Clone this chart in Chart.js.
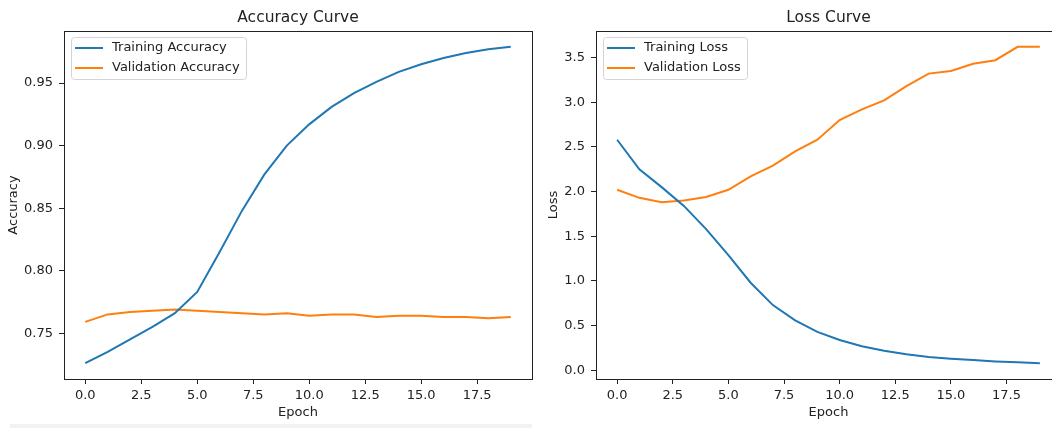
<!DOCTYPE html>
<html>
<head>
<meta charset="utf-8">
<script src="https://cdn.jsdelivr.net/npm/chart.js@4.4.1/dist/chart.umd.min.js"></script>
<style>
  html, body { margin: 0; padding: 0; background: #fff; }
  body { width: 1052px; height: 428px; overflow: hidden; position: relative; }
  canvas { position: absolute; top: 0; }
  #acc { left: 0; }
  #loss { left: 540px; }
  .strip { position: absolute; left: 10px; top: 424px; width: 522px; height: 4px; background: #f2f2f2; }
</style>
</head>
<body>
<canvas id="acc" width="540" height="428"></canvas>
<canvas id="loss" width="530" height="428"></canvas>
<div class="strip"></div>
<script>
// values
const epochs = [0, 1, 2, 3, 4, 5, 6, 7, 8, 9, 10, 11, 12, 13, 14, 15, 16, 17, 18, 19];
const trainAcc = [0.726, 0.735, 0.745, 0.755, 0.766, 0.783, 0.815, 0.848, 0.877, 0.900, 0.917, 0.931, 0.942, 0.951, 0.959, 0.965, 0.970, 0.974, 0.977, 0.979];
const valAcc = [0.759, 0.765, 0.767, 0.768, 0.769, 0.768, 0.767, 0.766, 0.765, 0.766, 0.764, 0.765, 0.765, 0.763, 0.764, 0.764, 0.763, 0.763, 0.762, 0.763];
const trainLoss = [2.58, 2.25, 2.05, 1.84, 1.58, 1.29, 0.98, 0.73, 0.56, 0.43, 0.34, 0.27, 0.22, 0.18, 0.15, 0.13, 0.115, 0.10, 0.09, 0.08];
const valLoss = [2.02, 1.93, 1.88, 1.90, 1.94, 2.02, 2.17, 2.29, 2.45, 2.58, 2.80, 2.92, 3.02, 3.18, 3.32, 3.35, 3.43, 3.47, 3.62, 3.62];

const xTicks = [0, 2.5, 5, 7.5, 10, 12.5, 15, 17.5];
const accTicks = [0.75, 0.80, 0.85, 0.90, 0.95];
const lossTicks = [0, 0.5, 1.0, 1.5, 2.0, 2.5, 3.0, 3.5];

const BLUE = '#1f77b4';
const ORANGE = '#ff7f0e';
const INK = '#222222';
const FAMILY = '"DejaVu Sans", sans-serif';
const SIZE = 13;

// matplotlib-style 5% margins around the data
function limits(arrs) {
  const all = arrs.flat();
  const lo = Math.min(...all), hi = Math.max(...all);
  const m = (hi - lo) * 0.05;
  return [lo - m, hi + m];
}

function points(ys) {
  return epochs.map((x, i) => ({ x, y: ys[i] }));
}

function line(label, ys, color) {
  return {
    label, data: points(ys), borderColor: color, backgroundColor: color,
    borderWidth: 2, pointRadius: 0, tension: 0, fill: false,
  };
}

// full box around the plot + legend in the upper left, drawn over the lines
const mplFrame = {
  id: 'mplFrame',
  afterDatasetsDraw(chart) {
    const { ctx, chartArea: a } = chart;
    ctx.save();
    ctx.strokeStyle = INK;
    ctx.lineWidth = 1;
    ctx.strokeRect(Math.round(a.left) + 0.5, Math.round(a.top) + 0.5,
      Math.round(a.right - a.left), Math.round(a.bottom - a.top));

    const sets = chart.data.datasets;
    ctx.font = SIZE + 'px ' + FAMILY;
    const textW = Math.max(...sets.map((d) => ctx.measureText(d.label).width));
    const x = Math.round(a.left) + 7, y = Math.round(a.top) + 6;
    const w = Math.round(41 + textW + 6), h = 42;
    ctx.beginPath();
    ctx.roundRect(x + 0.5, y + 0.5, w, h, 3);
    ctx.fillStyle = 'rgba(255,255,255,0.8)';
    ctx.fill();
    ctx.strokeStyle = '#d4d4d4';
    ctx.stroke();
    sets.forEach((d, i) => {
      const cy = y + 11 + i * 20;
      ctx.strokeStyle = d.borderColor;
      ctx.lineWidth = 2;
      ctx.beginPath();
      ctx.moveTo(x + 4, cy);
      ctx.lineTo(x + 32, cy);
      ctx.stroke();
      ctx.fillStyle = INK;
      ctx.textBaseline = 'middle';
      ctx.fillText(d.label, x + 41, cy);
    });
    ctx.restore();
  },
};

function makeChart(canvas, { title, yTitle, yTicks, yDigits, yWidth, padRight, datasets }) {
  const [yMin, yMax] = limits(datasets.map((d) => d.data.map((p) => p.y)));
  const font = { family: FAMILY, size: SIZE };
  const grid = { drawOnChartArea: false, tickLength: 5, color: INK, tickColor: INK };
  return new Chart(canvas, {
    type: 'line',
    data: { datasets },
    plugins: [mplFrame],
    options: {
      responsive: false,
      animation: false,
      layout: { padding: { left: 0, right: padRight, top: 0, bottom: 0 } },
      plugins: {
        legend: { display: false },
        tooltip: { enabled: false },
        title: {
          display: true, fullSize: false, text: title, color: INK,
          font: { family: FAMILY, size: 15.5, weight: 'normal', lineHeight: 1.2 },
          padding: { top: 9, bottom: 3.4 },
        },
      },
      scales: {
        x: {
          type: 'linear', min: -0.95, max: 19.95,
          afterBuildTicks: (s) => { s.ticks = xTicks.map((value) => ({ value })); },
          afterFit: (s) => { s.height = 49; },
          grid, border: { display: false },
          ticks: { color: INK, font, padding: 4, maxRotation: 0, autoSkip: false, callback: (v) => v.toFixed(1) },
          title: { display: true, text: 'Epoch', color: INK, font, padding: { top: 0, bottom: 8 } },
        },
        y: {
          type: 'linear', min: yMin, max: yMax,
          afterBuildTicks: (s) => { s.ticks = yTicks.map((value) => ({ value })); },
          afterFit: (s) => { s.width = yWidth; },
          grid, border: { display: false },
          ticks: { color: INK, font, padding: 6, autoSkip: false, callback: (v) => v.toFixed(yDigits) },
          title: { display: true, text: yTitle, color: INK, font, padding: { top: 6, bottom: 0 } },
        },
      },
    },
  });
}

makeChart(document.getElementById('acc'), {
  title: 'Accuracy Curve', yTitle: 'Accuracy', yTicks: accTicks, yDigits: 2, yWidth: 64, padRight: 8,
  datasets: [line('Training Accuracy', trainAcc, BLUE), line('Validation Accuracy', valAcc, ORANGE)],
});

makeChart(document.getElementById('loss'), {
  title: 'Loss Curve', yTitle: 'Loss', yTicks: lossTicks, yDigits: 1, yWidth: 56, padRight: 9,
  datasets: [line('Training Loss', trainLoss, BLUE), line('Validation Loss', valLoss, ORANGE)],
});
</script>
</body>
</html>
